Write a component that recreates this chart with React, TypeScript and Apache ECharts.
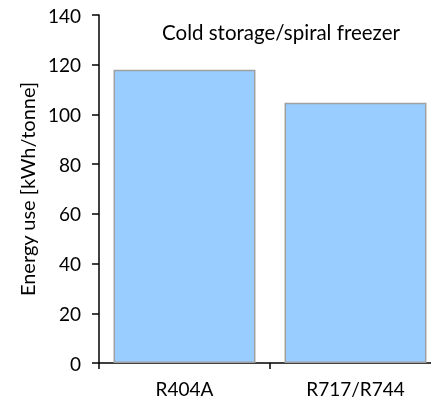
import React, { useEffect, useRef } from "react";
import * as echarts from "echarts";

const categories = ["R404A", "R717/R744"];
const energyUse = [118, 104.7];
const yTicks = { min: 0, max: 140, interval: 20 };
const chartTitle = "Cold storage/spiral freezer";
const yAxisName = "Energy use [kWh/tonne]";

export default function App() {
  const ref = useRef<HTMLDivElement>(null);
  useEffect(() => {
    if (!ref.current) return;
    const chart = echarts.init(ref.current, null, { renderer: "svg" });
    const font = "Lato, 'Open Sans', sans-serif";
    chart.setOption({
      animation: false,
      title: {
        text: chartTitle,
        left: 276,
        top: 16,
        textAlign: "center",
        textStyle: { fontFamily: font, fontSize: 20.5, fontWeight: "normal", color: "#000" },
      },
      grid: { left: 99, right: 0, top: 15, bottom: 47, containLabel: false },
      xAxis: {
        type: "category",
        data: categories,
        axisLine: { lineStyle: { color: "#000", width: 1.5 } },
        axisTick: { show: true, alignWithLabel: false, length: 6, lineStyle: { color: "#000", width: 1.5 } },
        axisLabel: { fontFamily: font, fontSize: 19, color: "#000", margin: 16 },
      },
      yAxis: {
        type: "value",
        min: yTicks.min,
        max: yTicks.max,
        interval: yTicks.interval,
        name: yAxisName,
        nameLocation: "middle",
        nameGap: 55,
        nameRotate: 90,
        nameTextStyle: { fontFamily: font, fontSize: 20, color: "#000" },
        axisLine: { show: true, lineStyle: { color: "#000", width: 1.5 } },
        axisTick: { show: true, length: 7, lineStyle: { color: "#000", width: 1.5 } },
        axisLabel: { fontFamily: font, fontSize: 19, color: "#000", margin: 18 },
        splitLine: { show: false },
      },
      series: [
        {
          type: "bar",
          data: energyUse,
          barCategoryGap: "17%",
          itemStyle: { color: "#99CCFF", borderColor: "#A0A0A0", borderWidth: 1.5 },
        },
      ],
    });
    return () => chart.dispose();
  }, []);
  return (
    <div style={{ position: "fixed", left: 0, top: 0, width: 431, height: 410, overflow: "hidden" }}>
      <div ref={ref} style={{ position: "absolute", left: 0, top: 0, width: 441, height: 410 }} />
    </div>
  );
}
